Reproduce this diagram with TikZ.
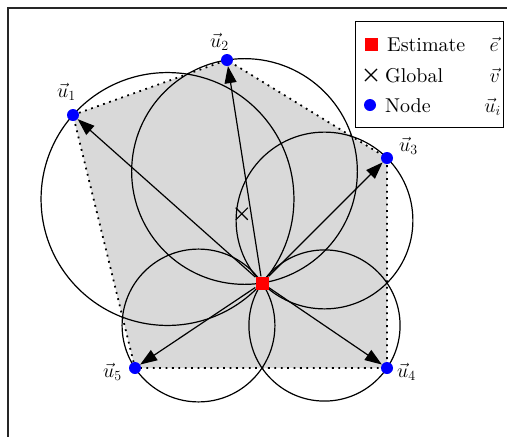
\RequirePackage{fix-cm}
\documentclass[tikz,border=0pt]{standalone}
\usepackage{fontspec}
\setmainfont{lmroman10-regular}[Extension=.otf, BoldFont=lmroman10-bold, ItalicFont=lmroman10-italic]
\usetikzlibrary{arrows.meta, calc, backgrounds, shapes.misc, positioning}

\begin{document}
\begin{tikzpicture}[
    x=1pt, y=-1pt,
    >={Triangle[length=17pt,width=12pt]},
    every node/.style={font=\fontsize{20}{24}\selectfont, inner sep=0pt},
    nd/.style={circle, fill=blue, inner sep=0pt, minimum size=12pt},
    estbox/.style={rectangle, fill=red, inner sep=0pt, minimum size=13pt},
    glb/.style={cross out, draw, line width=1.1pt, inner sep=0pt, minimum size=11pt},
    circ/.style={draw, line width=1.2pt},
    hull/.style={line width=1.8pt, dash pattern=on 1.8pt off 4.6pt},
    frame/.style={line width=1.6pt, black!85},
]
    \useasboundingbox (0,0) rectangle (507,437);

    % Rahmen
    \draw[frame] (8,437) -- (8,8) -- (507,8);

    % Knoten und Schaetzung
    \node[nd] (u1) at (73,115)  {};
    \node[nd] (u2) at (227,60)  {};
    \node[nd] (u3) at (387,158) {};
    \node[nd] (u4) at (387,368) {};
    \node[nd] (u5) at (135,368) {};
    \node[estbox] (e) at (262,283) {};
    \node[glb] (v) at ($0.2*(u1)+0.2*(u2)+0.2*(u3)+0.2*(u4)+0.2*(u5)$) {};

    % Beschriftungen
    \node[anchor=base west] (l1) at (57,97)  {$\vec{u}_1$};
    \node[anchor=base west] (l2) at (210,47) {$\vec{u}_2$};
    \node[anchor=base west] (l3) at (399,151) {$\vec{u}_3$};
    \node[anchor=base west] (l4) at (397,377) {$\vec{u}_4$};
    \node[anchor=base west] (l5) at (103,377) {$\vec{u}_5$};

    \begin{pgfonlayer}{background}
        % konvexe Huelle
        \fill[black!15] (u1.center) -- (u2.center) -- (u3.center)
            -- (u4.center) -- (u5.center) -- cycle;

        % Thaleskreise
        \foreach \i in {1,...,5}
            \draw[circ] let \p1=($(u\i)-(e)$), \n1={veclen(\x1,\y1)/2} in
                ($(e)!0.5!(u\i)$) circle[radius=\n1];

        \draw[hull] (u1.center) -- (u2.center) -- (u3.center)
            -- (u4.center) -- (u5.center) -- cycle;

        % Pfeile
        \foreach \i in {1,...,5}
            \draw[->, line width=1.2pt] (e) -- (u\i);
    \end{pgfonlayer}

    % Legende
    \node[draw, fill=white, line width=1.2pt, anchor=north west,
        minimum width=148pt, minimum height=106pt] (leg) at (355,21) {};
    \node[estbox] (le) at (371,44) {};
    \node[glb] (lv) at (371,75) {};
    \node[nd] (lu) at (370,105) {};
    \node[anchor=base west] (te) at (387,51)  {Estimate};
    \node[anchor=base west] (tv) at (385,82)  {Global};
    \node[anchor=base west] (tu) at (385,112) {Node};
    \node[anchor=base east] (se) at (499,51)  {$\vec{e}$};
    \node[anchor=base east] (sv) at (500,82)  {$\vec{v}$};
    \node[anchor=base east] (su) at (501,112) {$\vec{u}_i$};

\end{tikzpicture}
\end{document}
